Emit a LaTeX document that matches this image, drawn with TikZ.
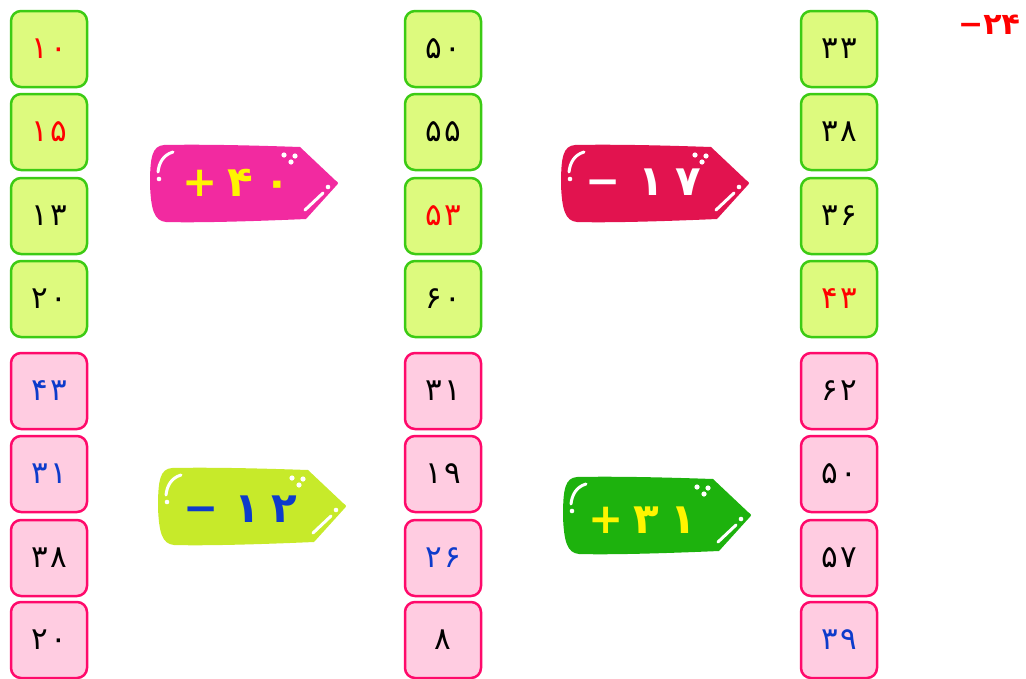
\documentclass[tikz,border=0pt]{standalone}
\usepackage{fontspec}
\newfontfamily\fadigits[LetterSpace=8]{DejaVu Sans}
\newfontfamily\faopdigits[LetterSpace=26]{DejaVu Sans}
\newfontfamily\faplain{DejaVu Sans}
\usetikzlibrary{positioning}

\definecolor{boxgreen}{HTML}{DDFA7E}
\definecolor{edgegreen}{HTML}{3CCB14}
\definecolor{boxpink}{HTML}{FFCCE1}
\definecolor{edgepink}{HTML}{FF0A6B}
\definecolor{numred}{HTML}{FF0000}
\definecolor{numblue}{HTML}{0D3BCB}
\definecolor{tagpink}{HTML}{F22AA0}
\definecolor{tagred}{HTML}{E2134F}
\definecolor{taglime}{HTML}{C7EA2A}
\definecolor{taggreen}{HTML}{1DB20D}
\definecolor{tagyellow}{HTML}{FFF500}

% price tag body with its white gloss marks, origin at the top left
\newcommand{\pricetag}[2]{%
  \begin{scope}[shift={(#1)}]
    \fill[#2] (14,0) .. controls (60,-1) and (120,1) .. (150,2) -- (185,35)
      .. controls (189,38) .. (185,42) -- (156,74)
      .. controls (110,76) and (50,78) .. (16,77)
      .. controls (4,76) and (1,64) .. (0,40)
      .. controls (0,12) and (2,1) .. (14,0) -- cycle;
    \draw[white, line width=3pt, line cap=round] (23,7) .. controls (13,10) and (9,18) .. (8,27);
    \fill[white] (9,34) circle (2.3);
    \fill[white] (134,10) circle (2.6) (145,11) circle (2.6) (141,17) circle (2.6);
    \draw[white, line width=3pt, line cap=round] (155,65) -- (173,48);
    \fill[white] (178,42) circle (2.3);
  \end{scope}}

\begin{document}
\begin{tikzpicture}[x=1pt, y=-1pt,
  numbox/.style={minimum size=76pt, inner sep=0pt, rounded corners=10pt, line width=2.5pt,
    font=\fadigits\fontsize{31}{33}\selectfont},
  gbox/.style={numbox, draw=edgegreen, fill=boxgreen},
  pbox/.style={numbox, draw=edgepink, fill=boxpink},
  optext/.style={font=\faopdigits\bfseries\fontsize{42}{44}\selectfont, inner sep=0pt}]
  \useasboundingbox (0,0) rectangle (1026,678);

  % green column boxes
  \node[gbox, text=numred] (ga1) at (49,49) {۱۰};
  \node[gbox, text=numred] (ga2) at (49,132) {۱۵};
  \node[gbox] (ga3) at (49,216) {۱۳};
  \node[gbox] (ga4) at (49,299) {۲۰};
  \node[gbox] (gb1) at (443,49) {۵۰};
  \node[gbox] (gb2) at (443,132) {۵۵};
  \node[gbox, text=numred] (gb3) at (443,216) {۵۳};
  \node[gbox] (gb4) at (443,299) {۶۰};
  \node[gbox] (gc1) at (839,49) {۳۳};
  \node[gbox] (gc2) at (839,132) {۳۸};
  \node[gbox] (gc3) at (839,216) {۳۶};
  \node[gbox, text=numred] (gc4) at (839,299) {۴۳};

  % pink column boxes
  \node[pbox, text=numblue] (pa1) at (49,391) {۴۳};
  \node[pbox, text=numblue] (pa2) at (49,474) {۳۱};
  \node[pbox] (pa3) at (49,558) {۳۸};
  \node[pbox] (pa4) at (49,640) {۲۰};
  \node[pbox] (pb1) at (443,391) {۳۱};
  \node[pbox] (pb2) at (443,474) {۱۹};
  \node[pbox, text=numblue] (pb3) at (443,558) {۲۶};
  \node[pbox] (pb4) at (443,640) {۸};
  \node[pbox] (pc1) at (839,391) {۶۲};
  \node[pbox] (pc2) at (839,474) {۵۰};
  \node[pbox] (pc3) at (839,558) {۵۷};
  \node[pbox, text=numblue] (pc4) at (839,640) {۳۹};

  % operation tags
  \pricetag{150,145}{tagpink}
  \node[optext, text=tagyellow] (opa) at (236,183) {+\hspace{10pt}۴۰};
  \pricetag{561,145}{tagred}
  \node[optext, text=white] (opb) at (643,182) {−\hspace{18pt}۱۷};
  \pricetag{158,468}{taglime}
  \node[optext, text=numblue] (opc) at (240,509) {−\hspace{16pt}۱۲};
  \pricetag{563,477}{taggreen}
  \node[optext, text=tagyellow] (opd) at (642,520) {+\hspace{10pt}۳۱};

  \node[font=\faplain\bfseries\fontsize{30}{32}\selectfont, text=numred, inner sep=0pt] (diff) at (989,25) {−۲۴};
\end{tikzpicture}
\end{document}
